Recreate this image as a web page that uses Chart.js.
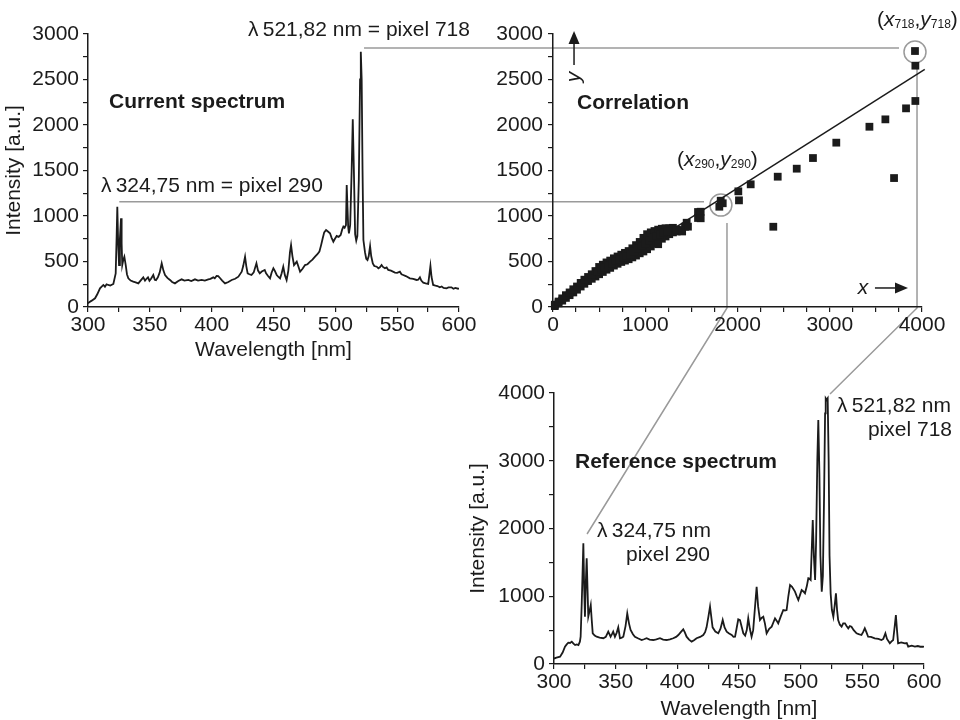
<!DOCTYPE html>
<html>
<head>
<meta charset="utf-8">
<script src="https://cdn.jsdelivr.net/npm/chart.js@4.4.0/dist/chart.umd.min.js"></script>
<style>
    body { margin: 0; background: #fff; }
    #wrap { position: relative; width: 960px; height: 720px; }
    #wrap canvas { position: absolute; left: 0; top: 0; }
</style>
</head>
<body>
<div id="wrap">
    <canvas id="links" width="960" height="720"></canvas>
    <canvas id="current" width="960" height="720"></canvas>
    <canvas id="correlation" width="960" height="720"></canvas>
    <canvas id="reference" width="960" height="720"></canvas>
</div>
<script>
// ---- current spectrum (wavelength nm / intensity a.u.) ----
const currentWl = [300, 300.3, 303, 305.7, 307.5, 309.7, 312.4, 313.7, 315, 316.4, 318, 320.5, 322.4, 323.2, 323.7, 324.4, 325.1, 325.8, 326.7, 327.2, 327.7, 328.6, 329.4, 330.5, 331.5, 332.6, 334.5, 336.6, 338.5, 340.7, 342.5, 344.7, 346.1, 347.3, 348.5, 349.7, 351, 352.8, 354, 355, 356.5, 358, 359.6, 361, 362.3, 364.2, 366.3, 368, 370.3, 373, 375.7, 378, 381.1, 383.5, 386.5, 389, 391.9, 394.5, 397.3, 399, 401.3, 402.5, 404, 405.3, 406.7, 408.5, 410.8, 413.5, 416.2, 419, 421.6, 424.3, 425.5, 427, 428, 429.1, 430.5, 432.2, 434, 436.2, 437.5, 438.9, 440.5, 442.9, 444, 445.6, 447.2, 448.5, 449.9, 451, 452.6, 454, 455.3, 456.6, 457.9, 459.2, 460.6, 462, 463.3, 464.2, 465.3, 466.6, 467.7, 468.8, 470, 471.5, 473.5, 475.5, 477.5, 479.6, 481.5, 483.6, 485.5, 487.1, 488.5, 489.8, 491, 492.5, 494, 495.7, 497, 498.4, 499.7, 501.1, 502.7, 504.3, 505.5, 506.5, 507.5, 508.6, 509.2, 509.8, 510.4, 511, 512, 513.2, 514.1, 515, 516, 516.9, 517.8, 519, 520, 520.6, 521.3, 522, 522.7, 524, 525, 526, 527, 528.1, 529, 530.3, 531.5, 533.5, 534.8, 536, 537.4, 538.5, 540.1, 541.5, 542.8, 545, 548.2, 550, 552.2, 553.5, 554.9, 557, 560.3, 563, 565.7, 567, 568.4, 569.5, 571.1, 573, 575.1, 576, 576.9, 577.8, 579.1, 581, 582.5, 584.5, 586, 587.5, 589.9, 591.5, 593.9, 595.5, 597, 599.3, 600];
const currentInt = [45, 47, 70, 96, 140, 205, 242, 223, 250, 242, 235, 253, 370, 800, 1102, 700, 461, 750, 975, 700, 461, 520, 553, 461, 360, 315, 290, 278, 270, 260, 290, 326, 289, 310, 326, 289, 310, 352, 300, 295, 326, 380, 480, 400, 352, 320, 297, 275, 260, 285, 304, 290, 297, 285, 304, 290, 297, 290, 304, 310, 326, 315, 341, 340, 319, 290, 260, 275, 297, 310, 333, 388, 450, 553, 450, 370, 360, 352, 380, 480, 400, 370, 390, 407, 370, 341, 315, 380, 425, 400, 352, 330, 315, 370, 443, 350, 297, 400, 600, 681, 560, 461, 480, 498, 450, 388, 420, 461, 470, 498, 520, 553, 580, 608, 680, 755, 820, 846, 830, 810, 760, 718, 750, 780, 770, 791, 850, 883, 870, 901, 1341, 1100, 880, 810, 900, 1500, 2063, 1500, 800, 729, 780, 1400, 2500, 2806, 2500, 1500, 736, 600, 530, 516, 560, 670, 560, 480, 450, 443, 425, 436, 461, 440, 425, 435, 407, 400, 378, 375, 388, 360, 352, 340, 315, 310, 297, 300, 326, 290, 267, 260, 253, 350, 451, 330, 242, 235, 230, 216, 225, 210, 205, 215, 216, 200, 210, 201, 205];

// ---- reference spectrum ----
const referenceWl = [300, 302, 304.9, 307, 308.9, 310.3, 311.6, 313, 314.4, 315.8, 317.1, 318.5, 319.8, 321, 321.6, 322.5, 323.8, 324.5, 325.1, 325.8, 326.5, 327.2, 327.8, 328.8, 329.8, 330.6, 331.4, 333, 334.6, 337, 340, 342, 344, 345.9, 347, 348, 349.4, 350.8, 352.1, 353.5, 355, 356.2, 358, 359.4, 360.8, 362.1, 364, 365.6, 368, 371.1, 373, 375.1, 377.5, 380.5, 383, 385.9, 388.5, 391.3, 394, 396.7, 399, 400.8, 402.8, 404.8, 406, 407.5, 409.5, 411.6, 413.5, 415.6, 418.5, 421, 422.5, 423.7, 425.2, 426.5, 427.5, 428.6, 430.8, 433.2, 435, 436.8, 438.3, 440, 442, 444.1, 445.5, 446.8, 448, 449.4, 450.8, 452, 453.5, 455, 456.3, 457.5, 458.8, 460.2, 461.5, 462.8, 464.3, 465.5, 467, 468.3, 469.7, 471, 472.4, 474.5, 476.5, 478, 479.2, 480.5, 481.8, 483.8, 485.9, 487.2, 488.6, 490, 491.4, 493, 495.4, 496.8, 498.1, 499.5, 500.8, 502.2, 503.5, 505, 506.2, 507, 508.1, 509, 509.8, 510.7, 511.7, 512.5, 513.5, 514.3, 515.2, 516, 517.1, 518, 519, 519.8, 520.3, 521.1, 521.9, 522.7, 523.4, 524.3, 525.3, 526.5, 527.5, 528.6, 529.5, 530.4, 531.8, 533.2, 534.5, 535.9, 537.2, 538.6, 539.9, 541.2, 543, 545.3, 547, 549.3, 550.6, 552, 553.3, 554.7, 557, 560.1, 563, 565.5, 567, 568.7, 570, 572.3, 573.5, 575, 576.2, 577.2, 578.1, 579, 581.5, 584.5, 586, 587.2, 590, 592.6, 595, 597, 599.4, 600];
const referenceInt = [80, 95, 108, 170, 256, 290, 315, 310, 330, 300, 280, 290, 280, 330, 403, 900, 1781, 1100, 698, 1200, 1560, 1100, 698, 780, 871, 650, 453, 420, 403, 390, 380, 400, 477, 403, 440, 477, 403, 460, 541, 380, 390, 403, 560, 748, 600, 502, 440, 403, 380, 354, 365, 380, 360, 354, 365, 380, 360, 354, 365, 380, 400, 428, 470, 512, 470, 403, 360, 330, 350, 380, 400, 428, 470, 541, 700, 846, 700, 541, 480, 453, 520, 649, 540, 477, 450, 428, 400, 403, 520, 660, 649, 560, 453, 420, 500, 674, 520, 403, 500, 800, 1141, 850, 649, 680, 698, 600, 453, 520, 551, 620, 674, 640, 600, 700, 797, 790, 797, 1000, 1166, 1140, 1068, 1000, 945, 1020, 1092, 1070, 1043, 1150, 1265, 1260, 1240, 1700, 2126, 1600, 1240, 1800, 3000, 3602, 2800, 1600, 1068, 1300, 2500, 3700, 3922, 3900, 3922, 3000, 1600, 1043, 800, 698, 850, 1043, 800, 649, 580, 551, 600, 600, 560, 526, 560, 551, 500, 453, 440, 428, 470, 526, 470, 403, 400, 379, 370, 354, 370, 453, 370, 305, 330, 354, 550, 723, 500, 305, 320, 305, 310, 256, 270, 256, 265, 255, 256, 250];

// ---- correlation: reference intensity (x) against current intensity (y) ----
// dense band (lower edge, upper edge, middle), then the sparse points of the strong lines
const corrX = [
    20, 60, 100, 140, 180, 220, 260, 300, 340, 380, 420, 460, 500, 540, 580, 620, 660, 700, 740, 780, 820, 860, 900, 940, 980, 1020, 1060, 1100, 1140, 1180, 1220, 1260, 1300, 1340,
    20, 60, 100, 140, 180, 220, 260, 300, 340, 380, 420, 460, 500, 540, 580, 620, 660, 700, 740, 780, 820, 860, 900, 940, 980, 1020, 1060, 1100, 1140, 1180, 1220, 1260, 1300, 1340,
    480, 520, 560, 600, 640, 680, 720, 760, 800, 840, 880, 920, 960, 1000, 1040, 1080, 1120, 1160, 1200, 1240,
    1140, 1355, 1400, 1431, 1449, 1463, 1572, 1572, 1601, 1601, 1803, 1818, 1840, 2009, 2016, 2143, 2388, 2436, 2642, 2818, 3071, 3430, 3603, 3697, 3827, 3928, 3928, 3924];
const corrY = [
    10, 40, 70, 100, 130, 160, 190, 225, 255, 285, 310, 335, 360, 385, 410, 430, 455, 475, 495, 510, 525, 545, 565, 590, 610, 635, 665, 700, 725, 750, 775, 800, 820, 830,
    25, 60, 95, 130, 160, 195, 225, 265, 300, 330, 360, 395, 440, 465, 490, 510, 535, 555, 575, 595, 615, 645, 680, 715, 760, 800, 820, 835, 850, 860, 865, 865, 870, 850,
    390, 410, 435, 455, 480, 505, 525, 545, 560, 580, 610, 640, 670, 700, 730, 760, 780, 800, 815, 830,
    690, 846, 830, 882, 926, 883, 1044, 978, 1047, 975, 1102, 1168, 1140, 1271, 1172, 1348, 882, 1432, 1520, 1637, 1806, 1981, 2062, 1417, 2183, 2264, 2652, 2813];
const fitX = [0, 4030];
const fitY = [20, 2612];

// ---- guide lines linking pixel 290 and pixel 718 across the three panels ----
const linkLevel = [1157, 2846];      // intensity of the horizontal guide
const linkFromWl = [325.3, 523.2];   // start on the current spectrum
const linkToCorrX = [1637, 3751];    // end next to the circled point
const circleX = [1820, 3924];
const circleY = [1120, 2802];
const dropX = [1886, 3946];          // vertical guide in the correlation panel
const dropTopY = [923, 2692];
const refWl = [326.8, 523.8];        // end on the reference spectrum
const refInt = [1919, 3985];

const ink = '#1b1b1b';
const guide = '#9a9a9a';
const FAMILY = '"Liberation Sans", Arial, sans-serif';
const plainFont = '21px ' + FAMILY;
const boldFont = 'bold 21px ' + FAMILY;
const italicFont = 'italic 21px ' + FAMILY;
const subFont = '12px ' + FAMILY;

Chart.defaults.font.family = FAMILY;
Chart.defaults.font.size = 21;
Chart.defaults.color = ink;

function toPoints(xs, ys) {
    return xs.map((x, i) => ({x: x, y: ys[i]}));
}

// plot boxes of the three panels on the shared 960x720 page
const currentArea = {left: 88, top: 34, right: 459, bottom: 307};
const corrArea = {left: 553, top: 34, right: 922, bottom: 307};
const refArea = {left: 554, top: 393, right: 924, bottom: 664};

function padFor(area, yWidth, xHeight) {
    return {
        left: area.left - yWidth,
        top: area.top,
        right: 960 - area.right,
        bottom: 720 - area.bottom - xHeight
    };
}

function axis(min, max, step, labelEvery, pad, width, height, title) {
    const a = {
        type: 'linear',
        min: min,
        max: max,
        border: {color: ink, width: 1.5},
        grid: {drawOnChartArea: false, color: ink, tickLength: 5, lineWidth: 1.2},
        ticks: {
            stepSize: step,
            autoSkip: false,
            maxRotation: 0,
            padding: pad,
            callback: v => (v % labelEvery === 0 ? v : '')
        },
        title: {display: !!title, text: title || '', padding: 0, font: {size: 21, lineHeight: 1}}
    };
    if (width) a.afterFit = s => { s.width = width; };
    if (height) a.afterFit = s => { s.height = height; };
    return a;
}

// draws "(x", sub, ",y", sub, ")" with italic letters and small indices
function drawRich(ctx, parts, x, y) {
    let cx = x;
    parts.forEach(p => {
        ctx.font = p[1] === 'i' ? italicFont : (p[1] === 's' ? subFont : plainFont);
        ctx.fillText(p[0], cx, y + (p[1] === 's' ? 5 : 0));
        cx += ctx.measureText(p[0]).width;
    });
}

function drawArrow(ctx, x1, y1, x2, y2) {
    const ang = Math.atan2(y2 - y1, x2 - x1);
    const len = 13, half = 5.5;
    ctx.beginPath();
    ctx.moveTo(x1, y1);
    ctx.lineTo(x2 - len * Math.cos(ang), y2 - len * Math.sin(ang));
    ctx.stroke();
    ctx.beginPath();
    ctx.moveTo(x2, y2);
    ctx.lineTo(x2 - len * Math.cos(ang) + half * Math.sin(ang), y2 - len * Math.sin(ang) - half * Math.cos(ang));
    ctx.lineTo(x2 - len * Math.cos(ang) - half * Math.sin(ang), y2 - len * Math.sin(ang) + half * Math.cos(ang));
    ctx.closePath();
    ctx.fill();
}

// text, arrows and subscript labels placed in data units of each panel
const notesPlugin = {
    id: 'notes',
    afterDraw(chart, args, opts) {
        const ctx = chart.ctx, xs = chart.scales.x, ys = chart.scales.y;
        ctx.save();
        ctx.fillStyle = ink;
        ctx.strokeStyle = ink;
        ctx.lineWidth = 1.5;
        ctx.textBaseline = 'middle';
        (opts.items || []).forEach(n => {
            ctx.font = n.bold ? boldFont : plainFont;
            ctx.textAlign = n.align || 'left';
            ctx.fillText(n.text, xs.getPixelForValue(n.x), ys.getPixelForValue(n.y));
        });
        ctx.textAlign = 'left';
        (opts.rich || []).forEach(r => {
            drawRich(ctx, r.parts, xs.getPixelForValue(r.x), ys.getPixelForValue(r.y));
        });
        (opts.arrows || []).forEach(a => {
            drawArrow(ctx, xs.getPixelForValue(a.x1), ys.getPixelForValue(a.y1),
                xs.getPixelForValue(a.x2), ys.getPixelForValue(a.y2));
            ctx.save();
            ctx.font = italicFont;
            ctx.textAlign = 'center';
            ctx.translate(xs.getPixelForValue(a.lx), ys.getPixelForValue(a.ly));
            if (a.rotate) ctx.rotate(-Math.PI / 2);
            ctx.fillText(a.label, 0, 0);
            ctx.restore();
        });
        ctx.restore();
    }
};

function spectrumConfig(wl, inten, area, yMax, yStep, yLabel, yWidth, xHeight, notes) {
    return {
        type: 'line',
        data: {
            datasets: [{
                data: toPoints(wl, inten),
                borderColor: ink,
                borderWidth: 1.8,
                pointRadius: 0,
                tension: 0,
                fill: false
            }]
        },
        options: {
            responsive: false,
            animation: false,
            events: [],
            devicePixelRatio: 1,
            layout: {padding: padFor(area, yWidth, xHeight)},
            plugins: {legend: {display: false}, tooltip: {enabled: false}, notes: notes},
            scales: {
                x: axis(300, 600, 25, 50, 1, 0, xHeight, 'Wavelength [nm]'),
                y: axis(0, yMax, yStep, yLabel, 4, yWidth, 0, 'Intensity [a.u.]')
            }
        },
        plugins: [notesPlugin]
    };
}

const currentChart = new Chart(document.getElementById('current'),
    spectrumConfig(currentWl, currentInt, currentArea, 3000, 250, 500, 84, 54, {
        items: [
            {text: 'Current spectrum', x: 317, y: 2253, bold: true},
            {text: 'λ\u2009324,75 nm = pixel 290', x: 310.5, y: 1330},
            {text: 'λ\u2009521,82 nm = pixel 718', x: 429.4, y: 3044}
        ]
    }));

const refChart = new Chart(document.getElementById('reference'),
    spectrumConfig(referenceWl, referenceInt, refArea, 4000, 500, 1000, 86, 56, {
        items: [
            {text: 'Reference spectrum', x: 317, y: 2982, bold: true},
            {text: 'λ\u2009324,75 nm', x: 334.9, y: 1963},
            {text: 'pixel 290', x: 426.5, y: 1609, align: 'right'},
            {text: 'λ\u2009521,82 nm', x: 529.5, y: 3808},
            {text: 'pixel 718', x: 622.7, y: 3454, align: 'right'}
        ]
    }));

const corrChart = new Chart(document.getElementById('correlation'), {
    type: 'scatter',
    data: {
        datasets: [{
            data: toPoints(corrX, corrY),
            pointStyle: 'rect',
            pointRadius: 5.5,
            backgroundColor: ink,
            borderWidth: 0,
            clip: false
        }, {
            type: 'line',
            data: toPoints(fitX, fitY),
            borderColor: ink,
            borderWidth: 1.5,
            pointRadius: 0,
            showLine: true,
            clip: false
        }]
    },
    options: {
        responsive: false,
        animation: false,
        events: [],
        devicePixelRatio: 1,
        layout: {padding: padFor(corrArea, 60, 40)},
        plugins: {
            legend: {display: false},
            tooltip: {enabled: false},
            notes: {
                items: [{text: 'Correlation', x: 260, y: 2242, bold: true}],
                rich: [
                    {x: 1344, y: 1615, parts: [['(', 'n'], ['x', 'i'], ['290', 's'], [',', 'n'], ['y', 'i'], ['290', 's'], [')', 'n']]},
                    {x: 3512, y: 3154, parts: [['(', 'n'], ['x', 'i'], ['718', 's'], [',', 'n'], ['y', 'i'], ['718', 's'], [')', 'n']]}
                ],
                arrows: [
                    {x1: 228, y1: 2659, x2: 228, y2: 3033, label: 'y', lx: 228, ly: 2527, rotate: true},
                    {x1: 3490, y1: 209, x2: 3848, y2: 209, label: 'x', lx: 3360, ly: 209}
                ]
            }
        },
        scales: {
            x: axis(0, 4000, 250, 1000, 1, 0, 40),
            y: axis(0, 3000, 250, 500, 5, 60, 0)
        }
    },
    plugins: [notesPlugin]
});

// grey guides: peak level -> circled point -> down to the matching reference peak
function drawLinks() {
    const ctx = document.getElementById('links').getContext('2d');
    const cx = currentChart.scales.x, cy = currentChart.scales.y;
    const kx = corrChart.scales.x, ky = corrChart.scales.y;
    const rx = refChart.scales.x, ry = refChart.scales.y;
    ctx.strokeStyle = guide;
    ctx.lineWidth = 1.5;
    for (let i = 0; i < linkLevel.length; i++) {
        ctx.beginPath();
        ctx.moveTo(cx.getPixelForValue(linkFromWl[i]), cy.getPixelForValue(linkLevel[i]));
        ctx.lineTo(kx.getPixelForValue(linkToCorrX[i]), cy.getPixelForValue(linkLevel[i]));
        ctx.stroke();

        ctx.beginPath();
        ctx.arc(kx.getPixelForValue(circleX[i]), ky.getPixelForValue(circleY[i]), 11, 0, Math.PI * 2);
        ctx.stroke();

        ctx.beginPath();
        ctx.moveTo(kx.getPixelForValue(dropX[i]), ky.getPixelForValue(dropTopY[i]));
        ctx.lineTo(kx.getPixelForValue(dropX[i]), ky.getPixelForValue(0) + 1);
        ctx.lineTo(rx.getPixelForValue(refWl[i]), ry.getPixelForValue(refInt[i]));
        ctx.stroke();
    }
}
drawLinks();
</script>
</body>
</html>
